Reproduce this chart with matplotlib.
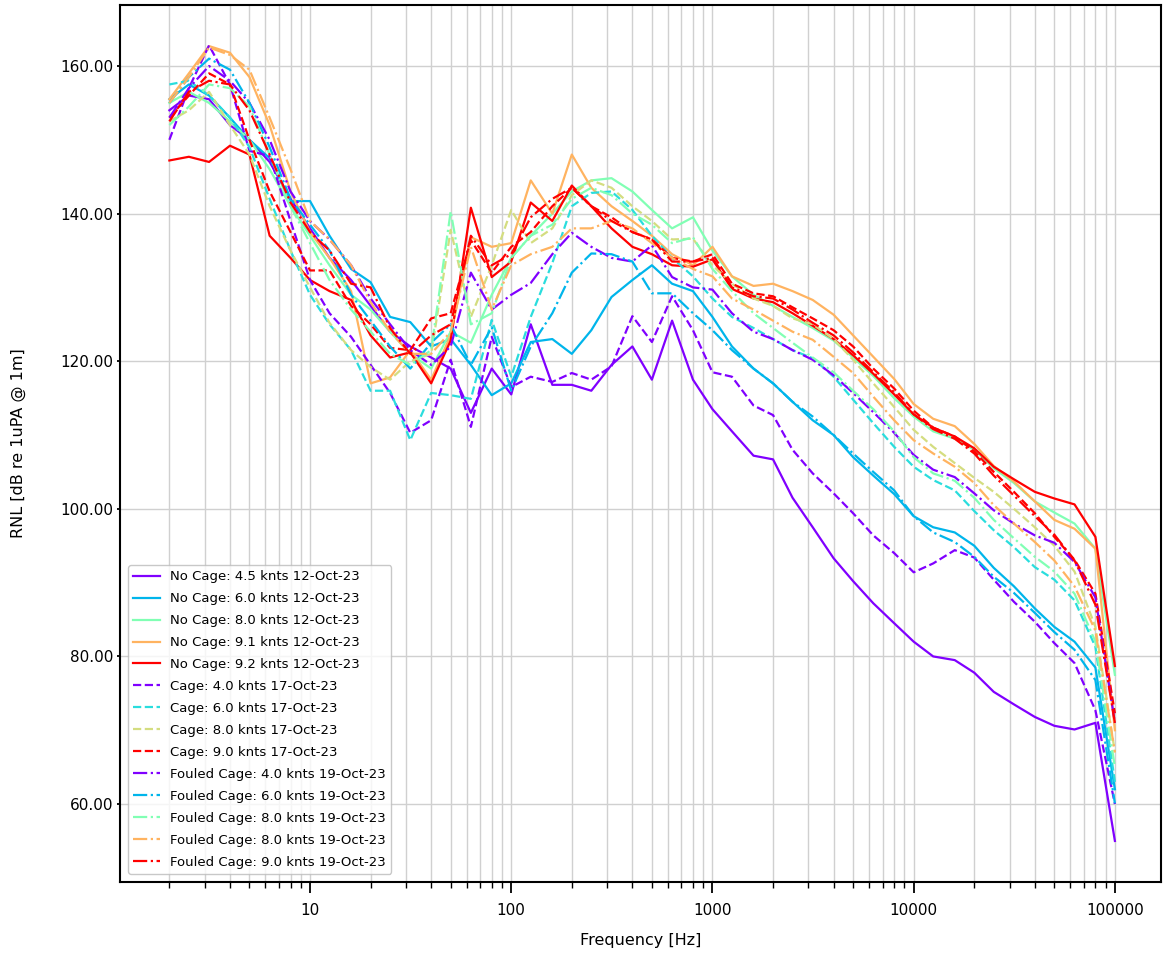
import numpy as np
import matplotlib
matplotlib.use('Agg')
import matplotlib.pyplot as plt
from matplotlib.ticker import FormatStrFormatter, LogLocator, NullFormatter, ScalarFormatter

# 1/3 octave band centre frequencies
freq = [2, 2.5, 3.15, 4, 5, 6.3, 8, 10, 12.5, 16, 20, 25, 31.5, 40, 50, 63, 80,
        100, 125, 160, 200, 250, 315, 400, 500, 630, 800, 1000, 1250, 1600, 2000,
        2500, 3150, 4000, 5000, 6300, 8000, 10000, 12500, 16000, 20000, 25000,
        31500, 40000, 50000, 63000, 80000, 100000]

# no cage, 12-Oct-23
nc_45 = [154, 156, 155.5, 152, 150, 147, 142, 138, 134, 131, 127.5, 124, 122, 120.5, 119, 113,
         119, 115.5, 125, 116.8, 116.8, 116, 119.5, 122, 117.5, 125.5, 117.5, 113.5, 110.5, 107.2,
         106.7, 101.5, 97.5, 93.3, 90.2, 87.2, 84.5, 82, 80, 79.5, 77.8, 75.2, 73.5, 71.8, 70.6,
         70.1, 71, 55]
nc_60 = [155.5, 157.5, 156, 153, 150, 147.5, 141.7, 141.7, 137, 132.5, 130.7, 126, 125.3, 122, 123, 119.5,
         115.4, 117, 122.6, 123, 121, 124.2, 128.7, 131, 133, 130.5, 129.5, 126, 122, 119,
         117, 114.5, 112, 110, 107, 104.5, 102, 99, 97.5, 96.8, 95, 92, 89.5, 86.5, 84,
         82, 78.5, 62]
nc_80 = [155, 156.5, 155, 152.5, 150, 146, 141, 137, 133, 129, 127, 124, 121, 119, 124, 122.5,
         129, 134, 137, 140, 143, 144.5, 144.8, 143, 140.5, 138, 139.5, 135, 131.5, 129,
         127.5, 126, 124.5, 122.8, 120.5, 118, 115, 112.5, 110.5, 109.5, 108, 105.5, 103.5, 101, 99.5,
         98, 94.6, 77.5]
nc_91 = [155.5, 159, 162.7, 161.8, 158.5, 152, 143, 137.5, 134, 129.5, 117, 117.8, 121.5, 117.5, 123.5, 136.8,
         135.5, 136, 144.5, 140, 148, 143.5, 141, 139, 137, 134.5, 133, 135.5, 131.5, 130.2,
         130.5, 129.5, 128.3, 126.3, 123.5, 120.6, 117.6, 114.2, 112.2, 111.2, 108.8, 105.8, 103.7, 101, 98.5,
         97.3, 94.6, 70]
nc_92 = [147.2, 147.7, 147, 149.2, 148, 137, 134, 131, 129.5, 128.3, 123.5, 120.5, 121.2, 117, 122.8, 140.8,
         131.4, 133.5, 141.5, 139, 143.8, 141, 138, 135.5, 134.5, 133, 132.8, 133.8, 129.8, 128.5,
         128, 126.5, 124.8, 123, 120.8, 118.3, 115.5, 112.8, 111, 109.8, 108.2, 105.7, 104, 102.3, 101.4,
         100.6, 96.2, 78.7]

# cage, 17-Oct-23
cg_40 = [150, 157, 162.8, 157.5, 148.5, 147.8, 139, 131, 126.5, 123.3, 119.5, 115.7, 110.3, 112, 120.2, 111.1,
         123.3, 116.5, 117.9, 117.2, 118.4, 117.5, 119.3, 126.1, 122.6, 128.8, 124.2, 118.5, 117.9, 114,
         112.7, 108, 104.8, 102.1, 99.4, 96.4, 94, 91.4, 92.6, 94.4, 93.4, 90.4, 87.4, 84.7, 81.8,
         79.1, 72.7, 60]
cg_60 = [157.5, 158, 156, 153, 149, 142, 135, 129, 125, 121.5, 116, 116, 109.3, 115.7, 115.4, 114.9,
         125.6, 117.9, 126, 133.3, 141, 142.8, 143, 140.5, 137, 134, 131.5, 128.5, 126, 124.5,
         123, 121.5, 120.4, 117.9, 114.8, 111.6, 108.4, 105.7, 103.9, 102.5, 99.7, 97.1, 94.8, 92.1, 90.4,
         87.6, 81.3, 63]
cg_80 = [152.5, 154, 156.5, 152, 148, 141, 135, 130, 125.2, 121.5, 119.2, 117.5, 120, 121, 137.8, 126,
         133, 140.5, 136, 138, 142.5, 144.5, 143.5, 141, 139, 136.5, 136.6, 133, 130.5, 128.5,
         127.5, 125.8, 125, 123, 120.2, 117, 113.8, 110.7, 108.4, 106.2, 104.2, 102.3, 100, 97.5, 95,
         91.5, 84, 67]
cg_90 = [153, 156, 159, 157.5, 150, 143, 137.5, 132.3, 132.3, 127.5, 125, 121.8, 121.5, 125.8, 126.5, 136.4,
         132, 135.5, 137.5, 141, 143.5, 141, 139.5, 137.5, 136.5, 134, 133.5, 134.5, 130.5, 129.2,
         128.8, 127.3, 125.8, 124.2, 122, 119, 116.3, 113.3, 111, 109.8, 107.8, 105, 102.3, 99.4, 96.2,
         93.1, 88.5, 72.3]

# fouled cage, 19-Oct-23
fc_40 = [153, 157, 160, 158, 155, 150, 143, 139, 136.5, 133, 128.5, 125, 121.5, 119.5, 122, 132,
         127, 129, 130.6, 134.5, 137.4, 135.5, 134, 133.5, 135.7, 131.4, 130, 129.7, 126.5, 124,
         123, 121.5, 120.2, 118.1, 115.7, 113.1, 110.3, 107.3, 105.3, 104.3, 102.1, 99.8, 98, 96.4, 95.4,
         92.8, 88, 71]
fc_60 = [155, 158.5, 161, 159.5, 155, 149, 142, 138.5, 135, 129, 125.5, 122, 119, 122.5, 125, 119.5,
         124.6, 116, 122, 126.5, 132, 134.6, 134.5, 133.5, 129.2, 129.2, 126.5, 124.2, 121.5, 119,
         117, 114.5, 112.5, 110, 107.5, 105, 102.5, 99, 96.8, 95.5, 93.5, 90.8, 88.6, 85.9, 83.3,
         80.9, 76.8, 60.1]
fc_80a = [152, 154.5, 157.5, 157, 154.5, 148, 141, 136, 131, 127, 124, 121, 119.5, 121.5, 140.3, 125,
          126.5, 134, 137, 138.5, 142, 143.5, 142.5, 140, 138.5, 136, 136.8, 132.5, 129.5, 126.5,
          124.5, 122.5, 120.5, 118.5, 116, 113.5, 110.5, 107, 104.8, 103.8, 101.5, 98.5, 96, 93.5, 91.5,
          88.5, 82, 65]
fc_80b = [155, 158.5, 162.5, 161.5, 159.5, 153, 146, 139, 136.5, 133, 128, 124, 121, 121, 124, 135.5,
          127, 133, 134.5, 135.5, 138, 138, 139, 138, 136, 134, 132.5, 131.5, 128.5, 127,
          125.5, 124, 122.9, 120.6, 118.4, 115.2, 112, 109.3, 107.5, 105.7, 103.5, 100.5, 98, 95.5, 93,
          89.5, 83.5, 67]
fc_90 = [152.5, 156.5, 158, 157.5, 154, 148, 141.5, 137.5, 135, 130.5, 130, 124.5, 121, 123.5, 125, 137,
         133, 134.5, 139.5, 142, 143.5, 141, 139, 137.5, 136.5, 133.5, 133.5, 134, 130, 128.8,
         128.5, 127, 125.2, 123.5, 121.2, 118.5, 115.8, 112.8, 110.8, 109.5, 107.5, 104.5, 101.8, 99, 96.5,
         93, 87, 71]

nc_labels = ['No Cage: 4.5 knts 12-Oct-23', 'No Cage: 6.0 knts 12-Oct-23', 'No Cage: 8.0 knts 12-Oct-23',
             'No Cage: 9.1 knts 12-Oct-23', 'No Cage: 9.2 knts 12-Oct-23']
cg_labels = ['Cage: 4.0 knts 17-Oct-23', 'Cage: 6.0 knts 17-Oct-23', 'Cage: 8.0 knts 17-Oct-23',
             'Cage: 9.0 knts 17-Oct-23']
fc_labels = ['Fouled Cage: 4.0 knts 19-Oct-23', 'Fouled Cage: 6.0 knts 19-Oct-23',
             'Fouled Cage: 8.0 knts 19-Oct-23', 'Fouled Cage: 8.0 knts 19-Oct-23',
             'Fouled Cage: 9.0 knts 19-Oct-23']

nc_data = [nc_45, nc_60, nc_80, nc_91, nc_92]
cg_data = [cg_40, cg_60, cg_80, cg_90]
fc_data = [fc_40, fc_60, fc_80a, fc_80b, fc_90]

fig = plt.figure(figsize=(11.63, 9.55), dpi=100)
ax = fig.add_axes([0.1032, 0.0764, 0.8950, 0.9184])

lw = 1.6
cols = plt.cm.rainbow(np.linspace(0, 1, len(nc_data)))
for d, lab, c in zip(nc_data, nc_labels, cols):
    ax.plot(freq, d, '-', color=c, lw=lw, label=lab)
cols = plt.cm.rainbow(np.linspace(0, 1, len(cg_data)))
for d, lab, c in zip(cg_data, cg_labels, cols):
    ax.plot(freq, d, '--', color=c, lw=lw, label=lab)
cols = plt.cm.rainbow(np.linspace(0, 1, len(fc_data)))
for d, lab, c in zip(fc_data, fc_labels, cols):
    ax.plot(freq, d, '-.', color=c, lw=lw, label=lab)

ax.set_xscale('log')
ax.set_xlim(1.137, 169300)
ax.set_ylim(49.43, 168.27)
ax.xaxis.set_major_formatter(ScalarFormatter())
ax.xaxis.set_minor_locator(LogLocator(base=10, subs=np.arange(2, 10), numticks=20))
ax.xaxis.set_minor_formatter(NullFormatter())
ax.yaxis.set_major_formatter(FormatStrFormatter('%.2f'))
ax.set_yticks([60, 80, 100, 120, 140, 160])

ax.grid(True, which='major', color='#d0d0d0', lw=1.0)
ax.grid(True, which='minor', axis='x', color='#d0d0d0', lw=1.0)
ax.set_axisbelow(True)

for s in ax.spines.values():
    s.set_linewidth(1.5)
ax.tick_params(axis='x', which='major', length=8, width=1.3, labelsize=11, pad=7)
ax.tick_params(axis='x', which='minor', length=4.5, width=1.0)
ax.tick_params(axis='y', which='major', length=2, width=1.3, labelsize=11, pad=3)

ax.set_xlabel('Frequency [Hz]', fontsize=11.5)
ax.set_ylabel('RNL [dB re 1uPA @ 1m]', fontsize=11.5)
ax.xaxis.set_label_coords(0.5, -0.058)
ax.yaxis.set_label_coords(-0.090, 0.5)

ax.legend(loc='lower left', fontsize=9.5, framealpha=0.8, borderaxespad=0.6,
          labelspacing=0.68, edgecolor='#bbbbbb')

fig.savefig('out.png', dpi=100)
